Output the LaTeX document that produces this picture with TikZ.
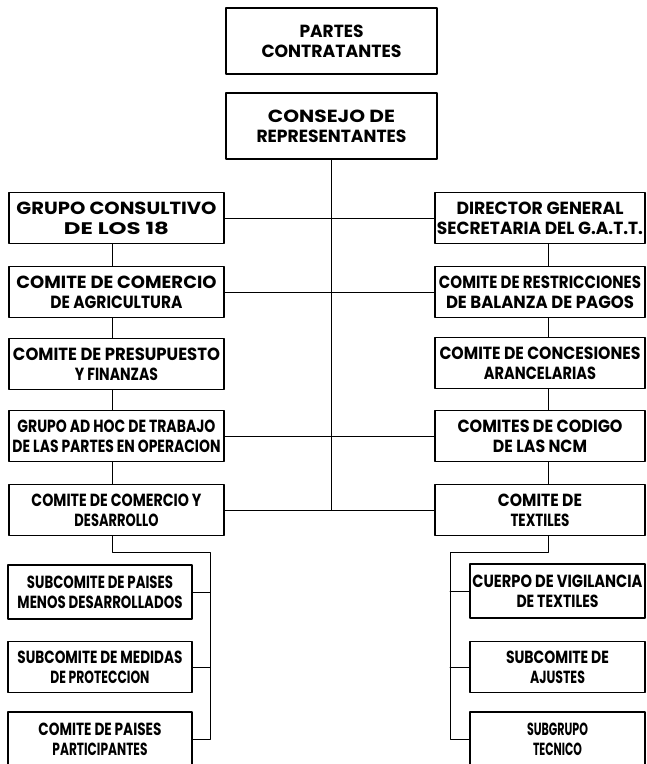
\documentclass[tikz,border=0pt]{standalone}
\usepackage{fontspec}
\setmainfont{Poppins}
\usepackage{graphicx}

% Una linea de texto ajustada al ancho que tiene en el original
\newcommand{\linea}[2]{\resizebox{#1pt}{12.5pt}{#2}}

\begin{document}
\begin{tikzpicture}[x=1pt,y=-1pt,line join=round,line cap=round,
	font=\bfseries\fontsize{12}{20}\selectfont,
	caja/.style={draw,line width=1.3pt,align=center,inner sep=0pt,minimum width=#1,minimum height=51pt},
	enlace/.style={line width=1pt}]
	
	% Marco
	\useasboundingbox (0,0) rectangle (647,764);
	\clip (0,0) rectangle (647,764);
	
	% Posiciones
	\def\xi{116.5} % columna izquierda
	\def\xd{540} % columna derecha
	\def\xsi{100} % subcomites izquierda
	\def\xsd{557.5} % subcomites derecha
	
	% Cabecera
	\node[caja=211pt,minimum height=66pt] (partes) at (331.5,41) {\linea{64}{PARTES}\\\linea{140}{CONTRATANTES}};
	\node[caja=211pt,minimum height=66pt] (consejo) at (331.5,126) {\linea{127}{CONSEJO DE}\\\linea{150}{REPRESENTANTES}};
	
	% Columna izquierda
	\node[caja=215pt] (g1) at (\xi,218) {\linea{200}{GRUPO CONSULTIVO}\\\linea{105}{DE LOS 18}};
	\node[caja=215pt] (g2) at (\xi,292) {\linea{200}{COMITE DE COMERCIO}\\\linea{132}{DE AGRICULTURA}};
	\node[caja=215pt] (g3) at (\xi,364) {\linea{207}{COMITE DE PRESUPUESTO}\\\linea{83}{Y FINANZAS}};
	\node[caja=215pt] (g4) at (\xi,436) {\linea{198}{GRUPO AD HOC DE TRABAJO}\\\linea{208}{DE LAS PARTES EN OPERACION}};
	\node[caja=215pt] (g5) at (\xi,510) {\linea{170}{COMITE DE COMERCIO Y}\\\linea{84}{DESARROLLO}};
	
	% Columna derecha
	\node[caja=210pt] (d1) at (\xd,218) {\linea{167}{DIRECTOR GENERAL}\\\linea{206}{SECRETARIA DEL G.A.T.T.}};
	\node[caja=210pt] (d2) at (\xd,292) {\linea{202}{COMITE DE RESTRICCIONES}\\\linea{188}{DE BALANZA DE PAGOS}};
	\node[caja=210pt] (d3) at (\xd,363) {\linea{201}{COMITE DE CONCESIONES}\\\linea{112}{ARANCELARIAS}};
	\node[caja=210pt] (d4) at (\xd,436) {\linea{165}{COMITES DE CODIGO}\\\linea{94}{DE LAS NCM}};
	\node[caja=210pt] (d5) at (\xd,510) {\linea{84}{COMITE DE}\\\linea{59}{TEXTILES}};
	
	% Subcomites
	\node[caja=184pt,minimum height=54pt] (c1) at (\xsi,592) {\linea{146}{SUBCOMITE DE PAISES}\\\linea{165}{MENOS DESARROLLADOS}};
	\node[caja=184pt] (c2) at (\xsi,667) {\linea{165}{SUBCOMITE DE MEDIDAS}\\\linea{99}{DE PROTECCION}};
	\node[caja=184pt,minimum height=54pt] (c3) at (\xsi,739) {\linea{123}{COMITE DE PAISES}\\\linea{95}{PARTICIPANTES}};
	\node[caja=175pt,minimum height=54pt] (e1) at (\xsd,591) {\linea{170}{CUERPO DE VIGILANCIA}\\\linea{82}{DE TEXTILES}};
	\node[caja=175pt] (e2) at (\xsd,667) {\linea{103}{SUBCOMITE DE}\\\linea{55}{AJUSTES}};
	\node[caja=175pt,minimum height=54pt] (e3) at (\xsd,739) {\linea{61}{SUBGRUPO}\\\linea{49}{TECNICO}};
	
	% Linea central y ramas
	\draw[enlace] (consejo.south) -- (consejo.south |- g5.east);
	\foreach \i in {1,2,4,5}
		\draw[enlace] (g\i.east) -- (d\i.west);
	
	% Cadenas verticales
	\foreach \a/\b in {g1/g2,g2/g3,g3/g4,g4/g5}
		\draw[enlace] ([xshift=-4.5pt]\a.south) -- ([xshift=-4.5pt]\b.north);
	\foreach \a/\b in {d1/d2,d2/d3,d3/d4,d4/d5}
		\draw[enlace] ([xshift=8pt]\a.south) -- ([xshift=8pt]\b.north);
	
	% Subcomites izquierda
	\coordinate (bi) at (210,552);
	\draw[enlace] ([xshift=-4.5pt]g5.south) |- (bi) -- (bi |- c3.east) -- (c3.east);
	\foreach \c in {c1,c2}
		\draw[enlace] (\c.east) -- (\c.east -| bi);
	
	% Subcomites derecha
	\coordinate (bd) at (450,552);
	\draw[enlace] ([xshift=8pt]d5.south) |- (bd) -- (bd |- e3.west) -- (e3.west);
	\foreach \c in {e1,e2}
		\draw[enlace] (\c.west) -- (\c.west -| bd);
	
\end{tikzpicture}
\end{document}
